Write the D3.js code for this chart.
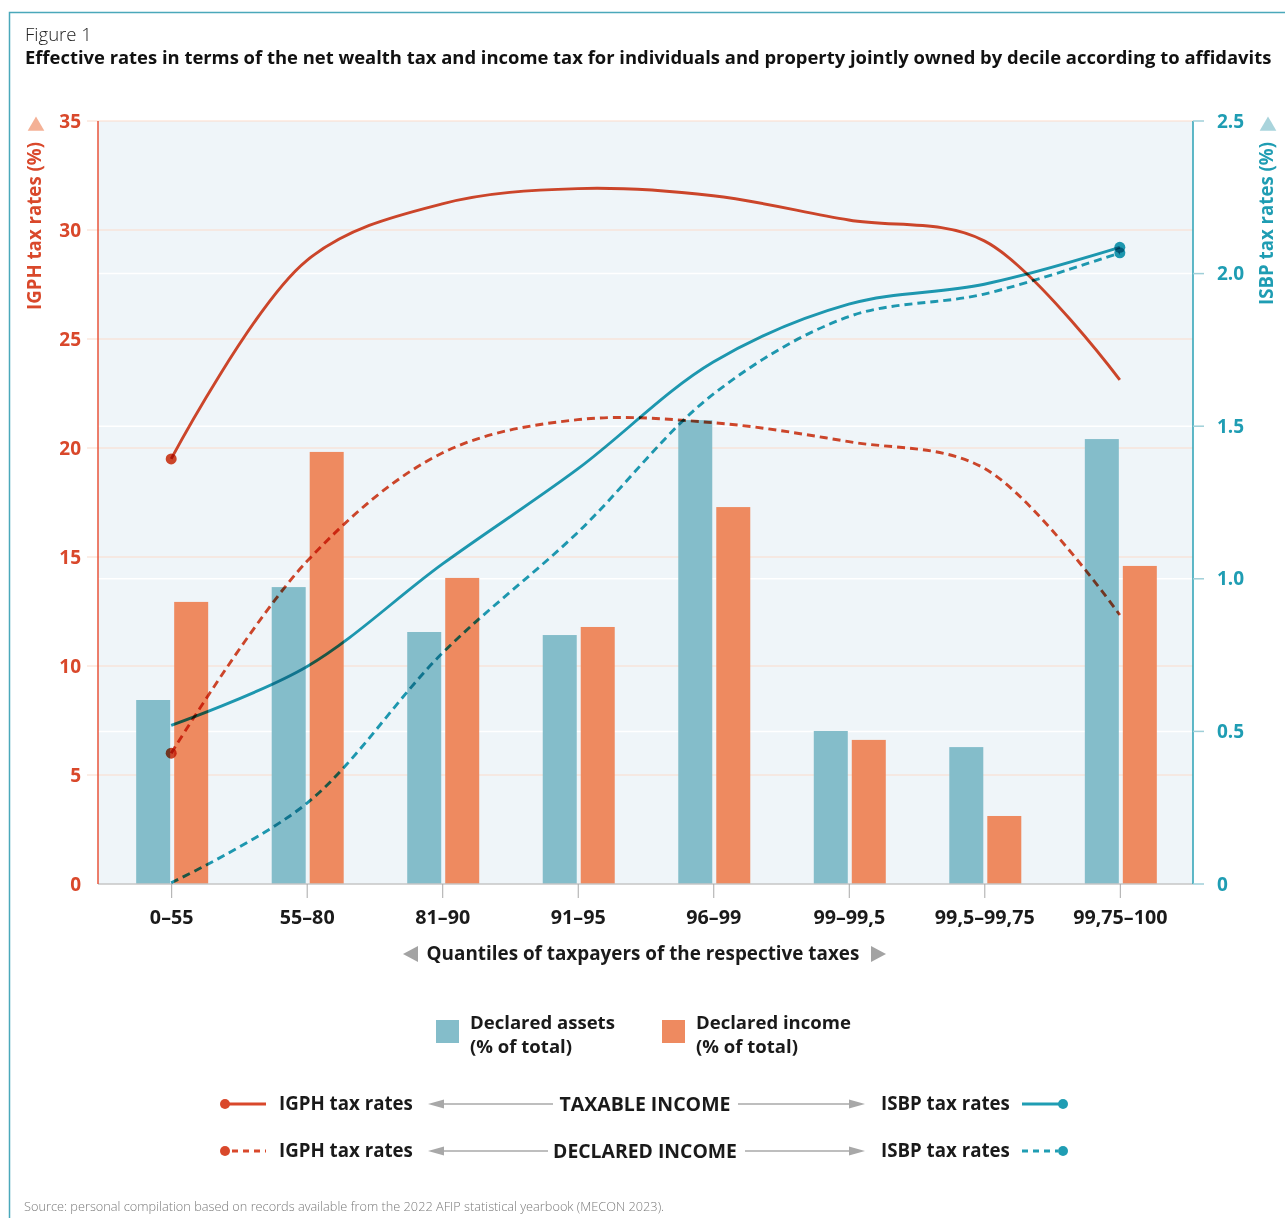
<!DOCTYPE html>
<html>
<head>
<meta charset="utf-8">
<script src="https://cdn.jsdelivr.net/npm/d3@7"></script>
<style>
  body { margin: 0; background: #fff; }
  svg { display: block; font-family: "Open Sans", "Noto Sans", sans-serif; }
  .mark-line { mix-blend-mode: multiply; }
</style>
</head>
<body>
<svg id="chart" width="1285" height="1218"></svg>
<script>
// data
const categories = ["0–55", "55–80", "81–90", "91–95", "96–99", "99–99,5", "99,5–99,75", "99,75–100"];
const declaredAssets = [8.44, 13.62, 11.56, 11.42, 21.28, 7.02, 6.28, 20.41];
const declaredIncome = [12.94, 19.82, 14.04, 11.79, 17.29, 6.61, 3.12, 14.59];
const igphTaxable = [19.5, 28.6, 31.2, 31.9, 31.57, 30.46, 29.5, 23.12];
const igphDeclared = [6.0, 14.79, 19.77, 21.3, 21.16, 20.29, 19.07, 12.34];
const isbpTaxable = [0.52, 0.712, 1.048, 1.36, 1.71, 1.9, 1.965, 2.086];
const isbpDeclared = [0.004, 0.264, 0.756, 1.152, 1.605, 1.859, 1.933, 2.068];
const leftTicks = [0, 5, 10, 15, 20, 25, 30, 35];
const rightTicks = [0, 0.5, 1.0, 1.5, 2.0, 2.5];

const red = "#d9482b", teal = "#1f9db3";
const barTeal = "#84bdca", barOrange = "#ee8a60";
const plot = { left: 98, right: 1193, top: 121, bottom: 884 };

const svg = d3.select("#chart");

// fit a text to a target width by scaling its font size
function fit(sel, w) {
  const len = sel.node().getComputedTextLength();
  const fs = parseFloat(sel.attr("font-size"));
  sel.attr("font-size", (fs * w / len).toFixed(2));
  return sel;
}

// outer frame
svg.append("path").attr("d", "M9.5,1218V12.5H1285")
  .attr("fill", "none").attr("stroke", "#4aa8ba").attr("stroke-width", 1.5);

// titles
fit(svg.append("text").attr("x", 25).attr("y", 41).attr("font-size", 18).attr("font-weight", 300)
  .attr("fill", "#222").text("Figure 1"), 67);
fit(svg.append("text").attr("x", 25).attr("y", 64).attr("font-size", 17).attr("font-weight", 700)
  .attr("fill", "#111")
  .text("Effective rates in terms of the net wealth tax and income tax for individuals and property jointly owned by decile according to affidavits"), 1247);

// scales
const x = d3.scalePoint().domain(categories).range([plot.left, plot.right]).padding(0.54);
const yL = d3.scaleLinear().domain([0, 35]).range([plot.bottom, plot.top]);
const yR = d3.scaleLinear().domain([0, 2.5]).range([plot.bottom, plot.top]);

// plot background
svg.append("rect").attr("x", plot.left).attr("y", plot.top)
  .attr("width", plot.right - plot.left).attr("height", plot.bottom - plot.top)
  .attr("fill", "#eff5f9");

// gridlines
svg.append("g").selectAll("line").data(rightTicks.filter(d => d > 0 && d < 2.5)).join("line")
  .attr("x1", plot.left).attr("x2", plot.right)
  .attr("y1", d => yR(d)).attr("y2", d => yR(d))
  .attr("stroke", "#fff").attr("stroke-width", 1.5);
svg.append("g").selectAll("line").data(leftTicks.filter(d => d > 0)).join("line")
  .attr("x1", 87).attr("x2", plot.right)
  .attr("y1", d => yL(d)).attr("y2", d => yL(d))
  .attr("stroke", "#fbdccc").attr("stroke-width", 1.2);

// bars
const barW = 34;
svg.append("g").selectAll("rect").data(categories).join("rect")
  .attr("x", d => x(d) - 1 - barW).attr("width", barW)
  .attr("y", (d, i) => yL(declaredAssets[i])).attr("height", (d, i) => yL(0) - yL(declaredAssets[i]))
  .attr("fill", barTeal);
svg.append("g").selectAll("rect").data(categories).join("rect")
  .attr("x", d => x(d) + 3).attr("width", barW)
  .attr("y", (d, i) => yL(declaredIncome[i])).attr("height", (d, i) => yL(0) - yL(declaredIncome[i]))
  .attr("fill", barOrange);

// x axis
const xAxis = svg.append("g").attr("transform", `translate(0,${plot.bottom})`)
  .call(d3.axisBottom(x).tickSize(14).tickPadding(7).tickSizeOuter(0));
xAxis.select(".domain").attr("stroke", "#c6c6c6").attr("stroke-width", 1.5)
  .attr("d", `M${plot.left},0H${plot.right}`);
xAxis.selectAll(".tick line").attr("stroke", "#a8a8a8");
xAxis.selectAll(".tick text").attr("font-size", 17).attr("font-weight", 700)
  .attr("fill", "#1a1a1a").attr("font-family", "Open Sans").attr("dy", "0.95em");
xAxis.selectAll(".tick text").each(function(d) {
  if (d === "99,5–99,75") fit(d3.select(this), 100);
});
const wide = xAxis.selectAll(".tick text").filter(d => d === "99,5–99,75").attr("font-size");
xAxis.selectAll(".tick text").attr("font-size", wide);

// left axis
svg.append("line").attr("x1", plot.left).attr("x2", plot.left).attr("y1", plot.top).attr("y2", plot.bottom)
  .attr("stroke", "#e8553b").attr("stroke-width", 1.5);
svg.append("g").selectAll("text").data(leftTicks).join("text")
  .attr("x", 81).attr("y", d => yL(d)).attr("dy", "0.35em").attr("text-anchor", "end")
  .attr("font-size", 19).attr("font-weight", 700).attr("fill", red).text(d => d);

// right axis
svg.append("line").attr("x1", plot.right).attr("x2", plot.right).attr("y1", plot.top).attr("y2", plot.bottom)
  .attr("stroke", "#2aa0b5").attr("stroke-width", 1.5);
svg.append("g").selectAll("line").data(rightTicks).join("line")
  .attr("x1", plot.right).attr("x2", plot.right + 11)
  .attr("y1", d => yR(d)).attr("y2", d => yR(d))
  .attr("stroke", "#9fcfd8").attr("stroke-width", 1.5);
svg.append("g").selectAll("text").data(rightTicks).join("text")
  .attr("x", 1217).attr("y", d => yR(d)).attr("dy", "0.35em")
  .attr("font-size", 19).attr("font-weight", 700).attr("fill", "#1f9db3")
  .text(d => d === 0 ? "0" : d3.format(".1f")(d));

// axis titles with triangles
svg.append("path").attr("d", d3.symbol(d3.symbolTriangle, 120)()).attr("transform", "translate(36,126)")
  .attr("fill", "#f4b196");
svg.append("path").attr("d", d3.symbol(d3.symbolTriangle, 120)()).attr("transform", "translate(1268,126)")
  .attr("fill", "#a9d4dc");
fit(svg.append("text").attr("transform", "translate(41,310) rotate(-90)")
  .attr("font-size", 17).attr("font-weight", 700).attr("fill", red).text("IGPH tax rates (%)"), 168);
fit(svg.append("text").attr("transform", "translate(1273,305) rotate(-90)")
  .attr("font-size", 17).attr("font-weight", 700).attr("fill", "#1f9db3").text("ISBP tax rates (%)"), 163);

// lines
const lineL = d3.line().x((d, i) => x(categories[i])).y(d => yL(d)).curve(d3.curveCatmullRom);
const lineR = d3.line().x((d, i) => x(categories[i])).y(d => yR(d)).curve(d3.curveCatmullRom);
const series = [
  { values: igphDeclared, gen: lineL, color: red, dash: "8,5" },
  { values: isbpDeclared, gen: lineR, color: teal, dash: "8,5" },
  { values: isbpTaxable, gen: lineR, color: teal, dash: null },
  { values: igphTaxable, gen: lineL, color: red, dash: null }
];
series.forEach(s => {
  svg.append("path").attr("class", "mark-line").attr("d", s.gen(s.values))
    .attr("fill", "none").attr("stroke", s.color).attr("stroke-width", 2.9)
    .attr("stroke-dasharray", s.dash);
});
// end markers: red at first point, teal at last point
[igphTaxable, igphDeclared].forEach(v => {
  svg.append("circle").attr("class", "mark-line").attr("cx", x(categories[0])).attr("cy", yL(v[0]))
    .attr("r", 5.5).attr("fill", red);
});
[isbpTaxable, isbpDeclared].forEach(v => {
  const n = categories.length - 1;
  svg.append("circle").attr("class", "mark-line").attr("cx", x(categories[n])).attr("cy", yR(v[n]))
    .attr("r", 5.5).attr("fill", teal);
});

// x axis title
fit(svg.append("text").attr("x", 643).attr("y", 960).attr("text-anchor", "middle")
  .attr("font-size", 18).attr("font-weight", 700).attr("fill", "#1a1a1a")
  .text("Quantiles of taxpayers of the respective taxes"), 433);
svg.append("path").attr("d", "M403,954L418,946V962Z").attr("fill", "#a3a3a3");
svg.append("path").attr("d", "M886,954L871,946V962Z").attr("fill", "#a3a3a3");

// bar legend
const barLegend = [
  { color: barTeal, x: 436, lines: ["Declared assets", "(% of total)"], w: 145 },
  { color: barOrange, x: 662, lines: ["Declared income", "(% of total)"], w: 155 }
];
barLegend.forEach(b => {
  svg.append("rect").attr("x", b.x).attr("y", 1020).attr("width", 23).attr("height", 23).attr("fill", b.color);
  const t = svg.append("text").attr("x", b.x + 34).attr("y", 1029).attr("font-size", 18)
    .attr("font-weight", 700).attr("fill", "#1a1a1a");
  t.append("tspan").attr("x", b.x + 34).text(b.lines[0]);
  t.append("tspan").attr("x", b.x + 34).attr("dy", 24).text(b.lines[1]);
  const len = t.select("tspan").node().getComputedTextLength();
  t.attr("font-size", (18 * b.w / len).toFixed(2));
});

// line legend
const lineLegend = [
  { y: 1104, label: "TAXABLE INCOME", lw: 171, dash: null, arrowL: 553, arrowR: 738 },
  { y: 1151, label: "DECLARED INCOME", lw: 184, dash: "6,5", arrowL: 548, arrowR: 745 }
];
lineLegend.forEach(r => {
  svg.append("line").attr("x1", r.dash ? 232 : 224).attr("x2", 266).attr("y1", r.y).attr("y2", r.y)
    .attr("stroke", red).attr("stroke-width", 2.9).attr("stroke-dasharray", r.dash);
  svg.append("circle").attr("cx", 225).attr("cy", r.y).attr("r", 5).attr("fill", red);
  fit(svg.append("text").attr("x", 279).attr("y", r.y + 6).attr("font-size", 18).attr("font-weight", 700)
    .attr("fill", "#1a1a1a").text("IGPH tax rates"), 134);
  fit(svg.append("text").attr("x", 645).attr("y", r.y + 7).attr("text-anchor", "middle")
    .attr("font-size", 18).attr("font-weight", 700).attr("fill", "#1a1a1a").text(r.label), r.lw);
  fit(svg.append("text").attr("x", 881).attr("y", r.y + 6).attr("font-size", 18).attr("font-weight", 700)
    .attr("fill", "#1a1a1a").text("ISBP tax rates"), 129);
  svg.append("line").attr("x1", 1022).attr("x2", r.dash ? 1058 : 1063).attr("y1", r.y).attr("y2", r.y)
    .attr("stroke", teal).attr("stroke-width", 2.9).attr("stroke-dasharray", r.dash);
  svg.append("circle").attr("cx", 1063).attr("cy", r.y).attr("r", 5).attr("fill", teal);
  // gray arrows
  svg.append("line").attr("x1", 438).attr("x2", r.arrowL).attr("y1", r.y).attr("y2", r.y)
    .attr("stroke", "#a8a8a8").attr("stroke-width", 1.3);
  svg.append("path").attr("d", `M428,${r.y}L444,${r.y - 4.5}V${r.y + 4.5}Z`).attr("fill", "#a8a8a8");
  svg.append("line").attr("x1", r.arrowR).attr("x2", 855).attr("y1", r.y).attr("y2", r.y)
    .attr("stroke", "#a8a8a8").attr("stroke-width", 1.3);
  svg.append("path").attr("d", `M865,${r.y}L849,${r.y - 4.5}V${r.y + 4.5}Z`).attr("fill", "#a8a8a8");
});

// source
fit(svg.append("text").attr("x", 24).attr("y", 1211).attr("font-size", 12).attr("font-weight", 300)
  .attr("fill", "#7a7a7a")
  .text("Source: personal compilation based on records available from the 2022 AFIP statistical yearbook (MECON 2023)."), 640);
</script>
</body>
</html>
